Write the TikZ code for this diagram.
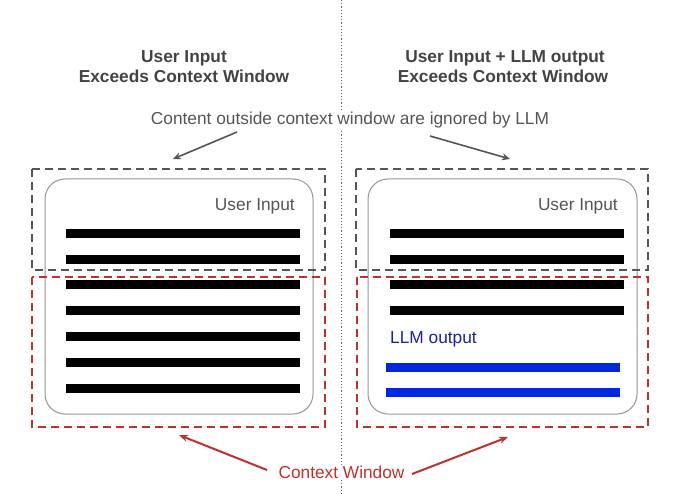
\documentclass[tikz,border=0pt]{standalone}
\usepackage{fontspec}
\setmainfont{Liberation Sans}
\usetikzlibrary{arrows.meta}
\definecolor{titlegray}{RGB}{67,67,67}
\definecolor{subgray}{RGB}{85,85,85}
\definecolor{dashgray}{RGB}{85,85,85}
\definecolor{boxgray}{RGB}{150,150,150}
\definecolor{ctxred}{RGB}{190,50,42}
\definecolor{llmtext}{RGB}{25,35,160}
\definecolor{llmbar}{RGB}{0,40,225}
\tikzset{
  titletext/.style={font=\fontsize{17.3}{20}\selectfont\bfseries, text=titlegray, anchor=base, inner sep=0pt},
  bodytext/.style={font=\fontsize{17.3}{20}\selectfont, inner sep=0pt},
  graybox/.style={draw=dashgray, line width=2.3pt, dash pattern=on 8pt off 5pt},
  redbox/.style={draw=ctxred, line width=2.6pt, dash pattern=on 8pt off 5pt},
  inbox/.style={draw=boxgray, line width=1pt, rounded corners=20pt},
  blackbar/.style={fill=black},
  bluebar/.style={fill=llmbar},
  grayarrow/.style={draw=dashgray, line width=1.6pt, -{Stealth[length=8pt,width=7pt]}},
  redarrow/.style={draw=ctxred, line width=2pt, -{Stealth[length=9pt,width=7pt]}},
}
\begin{document}
\begin{tikzpicture}[x=1pt,y=-1pt]
\useasboundingbox (0,0) rectangle (700,494);
\fill[white] (0,0) rectangle (700,494);
% divider
\draw[black!60, line width=1.4pt, dash pattern=on 1.2pt off 2pt] (341.5,0) -- (341.5,494);

% titles
\node[titletext] (t1a) at (184,63) {User Input};
\node[titletext] (t1b) at (184,83) {Exceeds Context Window};
\node[titletext] (t2a) at (505,63) {User Input + LLM output};
\node[titletext] (t2b) at (503,83) {Exceeds Context Window};

% subtitle
\node[bodytext, text=subgray, anchor=base, fill=white, inner xsep=1pt] (sub) at (350,125) {Content outside context window are ignored by LLM};

% left panel
\draw[inbox] (45,179) rectangle (313,414);
\node[bodytext, text=subgray, anchor=base east] (ui1) at (295,211) {User Input};
\foreach \yy in {233,259,284,310,336,362,388}
  \fill[blackbar] (66,\yy-4.5) rectangle (300,\yy+4.5);
\draw[graybox] (32,169) rectangle (325,270);
\draw[redbox] (32,277) rectangle (325,427);

% right panel
\draw[inbox] (368,179) rectangle (637,414);
\node[bodytext, text=subgray, anchor=base east] (ui2) at (618,211) {User Input};
\foreach \yy in {233,259,284,310}
  \fill[blackbar] (390,\yy-4.5) rectangle (624,\yy+4.5);
\node[bodytext, text=llmtext, anchor=base west] (llm) at (390,343) {LLM output};
\foreach \yy in {367.5,392.5}
  \fill[bluebar] (386,\yy-4.5) rectangle (620,\yy+4.5);
\draw[graybox] (356,169) rectangle (648,270);
\draw[redbox] (357,277) rectangle (648,427);

% context window label
\node[bodytext, text=ctxred, anchor=base, fill=white, inner xsep=1pt] (ctx) at (341.5,478) {Context Window};

% arrows
\coordinate (ga1s) at (237,132);
\coordinate (ga1e) at (173,159);
\coordinate (ga2s) at (430,136);
\coordinate (ga2e) at (510,159);
\draw[grayarrow] (ga1s) -- (ga1e);
\draw[grayarrow] (ga2s) -- (ga2e);
\coordinate (ra1s) at (267,470);
\coordinate (ra1e) at (179,435);
\coordinate (ra2s) at (412,474);
\coordinate (ra2e) at (508,437);
\draw[redarrow] (ra1s) -- (ra1e);
\draw[redarrow] (ra2s) -- (ra2e);
\end{tikzpicture}
\end{document}
